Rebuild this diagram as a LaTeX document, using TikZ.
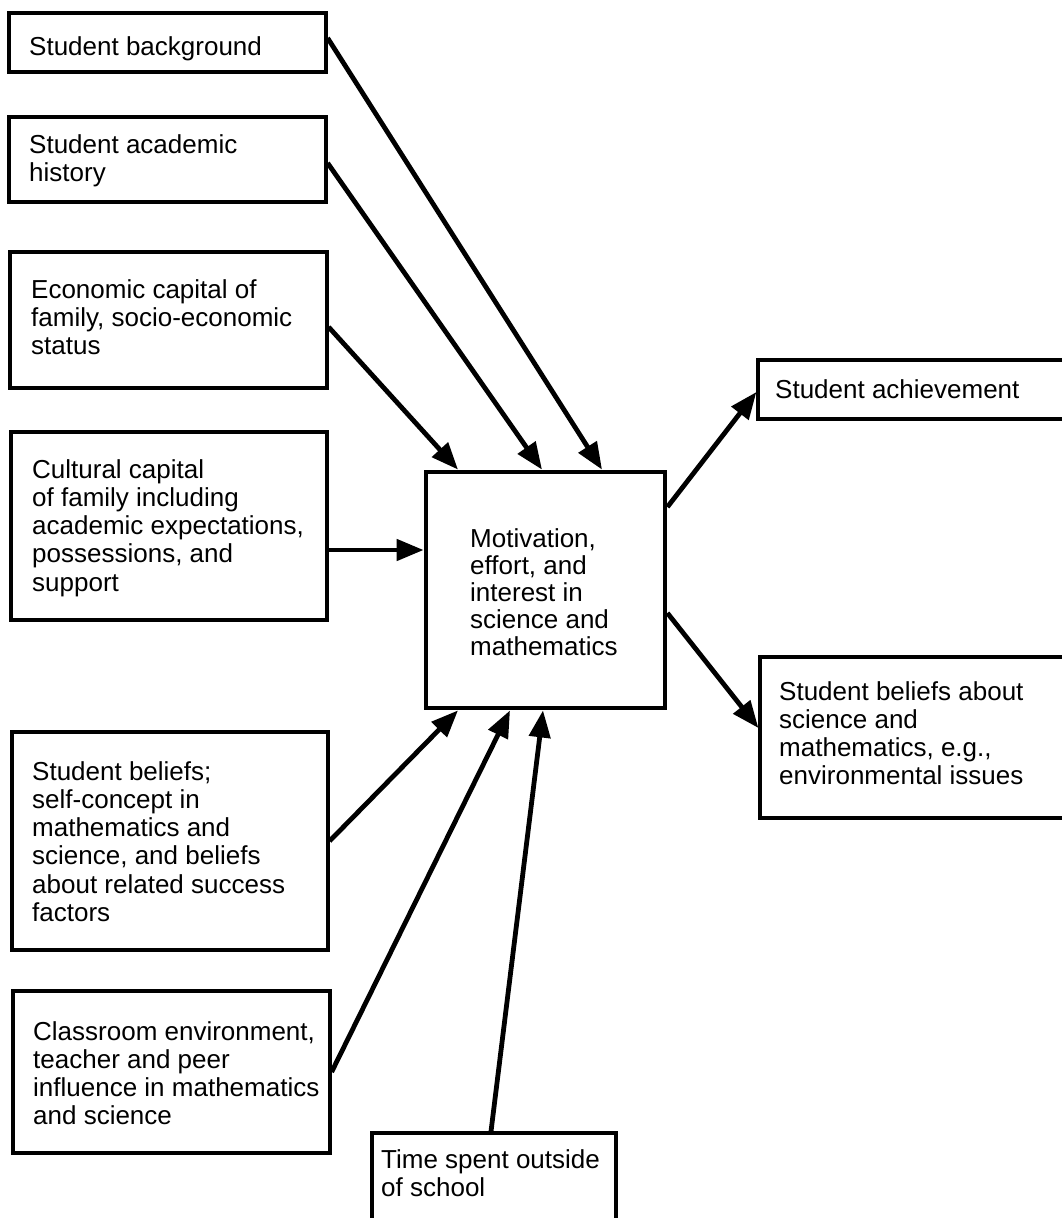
\documentclass[tikz,border=0pt]{standalone}
\usepackage{fontspec}
\setmainfont{Liberation Sans}
\usetikzlibrary{arrows.meta,fit}
\begin{document}
\begin{tikzpicture}[x=1pt,y=-1pt,
  box/.style={draw, line width=3.2pt, inner sep=0pt},
  mainbox/.style={draw, line width=4.8pt, inner sep=0pt},
  txt/.style={anchor=north west, inner sep=0pt, align=left, font=\fontsize{26}{28.3}\selectfont},
  ctxt/.style={anchor=north west, inner sep=0pt, align=left, font=\fontsize{26}{27}\selectfont},
  arr/.style={line width=4.8pt, -{Triangle[length=27pt,width=21pt]}}]
\clip (0,0) rectangle (1062,1218);
\fill[white] (0,0) rectangle (1062,1218);
% boxes
\node[box, fit={(9,13) (326,72)}] (b1) {};
\node[box, fit={(9,117) (326,202)}] (b2) {};
\node[box, fit={(10,252) (327,388)}] (b3) {};
\node[box, fit={(11,432) (327,620)}] (b4) {};
\node[box, fit={(12,732) (328,950)}] (b5) {};
\node[box, fit={(13,991) (330,1153)}] (b6) {};
\node[box, fit={(372,1133) (616,1240)}] (b7) {};
\node[mainbox, fit={(426,472) (665,708)}] (c) {};
\node[box, fit={(758,360) (1080,419)}] (ach) {};
\node[box, fit={(760,657) (1080,818)}] (bel) {};
% texts
\node[txt] (t1) at (29,36) {Student background};
\node[txt] (t2) at (29,134) {Student academic\\history};
\node[txt] (t3) at (31,279) {Economic capital of\\family, socio-economic\\status};
\node[txt] (t4) at (32,459) {Cultural capital\\of family including\\academic expectations,\\possessions, and\\support};
\node[txt] (t5) at (32,761) {Student beliefs;\\self-concept in\\mathematics and\\science, and beliefs\\about related success\\factors};
\node[txt] (t6) at (33,1021) {Classroom environment,\\teacher and peer\\influence in mathematics\\and science};
\node[txt] (t7) at (381,1149) {Time spent outside\\of school};
\node[ctxt] (tc) at (470,528) {Motivation,\\effort, and\\interest in\\science and\\mathematics};
\node[txt] (ta) at (775,379) {Student achievement};
\node[txt] (tb) at (779,681) {Student beliefs about\\science and\\mathematics, e.g.,\\environmental issues};
% connectors
\draw[arr] ([yshift=4.5pt]b1.east) -- ([xshift=56.5pt]c.north);
\draw[arr] ([yshift=-3.5pt]b2.east) -- ([xshift=-3.5pt]c.north);
\draw[arr] ([yshift=-7pt]b3.east) -- ([xshift=-87.5pt]c.north);
\draw[arr] ([yshift=-24pt]b4.east) -- ([yshift=40pt]c.west);
\draw[arr] (b5.east) -- ([xshift=-87.5pt]c.south);
\draw[arr] (b6.east) -- ([xshift=-35.5pt]c.south);
\draw[arr] ([xshift=-3pt]b7.north) -- ([xshift=-2.5pt]c.south);
\draw[arr] ([yshift=83pt]c.east) -- ([yshift=-2.5pt]ach.west);
\draw[arr] ([yshift=-23pt]c.east) -- ([yshift=9.5pt]bel.west);
\end{tikzpicture}
\end{document}
